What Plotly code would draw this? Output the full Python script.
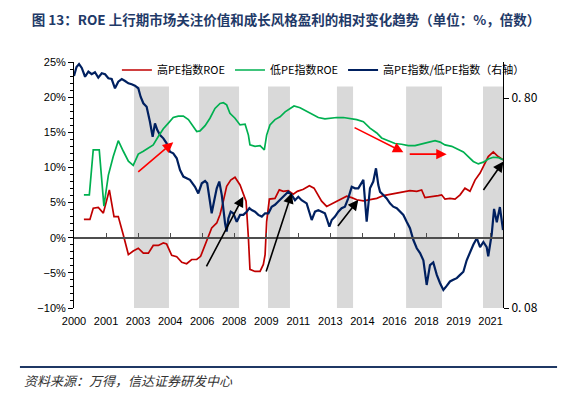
import math
import plotly.graph_objects as go

# ---------------- data ----------------
tick_labels = ['2000', '2001', '2003', '2004', '2006', '2008', '2009',
               '2011', '2013', '2014', '2016', '2018', '2019', '2021']
tick_pos = [2000.0, 2001.65, 2003.3, 2004.95, 2006.6, 2008.25, 2009.9,
            2011.55, 2013.2, 2014.85, 2016.5, 2018.15, 2019.8, 2021.45]

red_x = [2000.51, 2000.82, 2000.99, 2001.25, 2001.51, 2001.82, 2002.06, 2002.28, 2002.54, 2002.80,
         2003.05, 2003.31, 2003.57, 2003.83, 2004.08, 2004.34, 2004.60, 2004.77, 2005.03, 2005.29,
         2005.55, 2005.80, 2006.06, 2006.32, 2006.52, 2006.66, 2006.83, 2007.09, 2007.35, 2007.52,
         2007.69, 2007.86, 2008.07, 2008.29, 2008.55, 2008.72, 2008.86, 2008.98, 2009.06, 2009.32,
         2009.58, 2009.75, 2009.84, 2009.92, 2010.06, 2010.35, 2010.57, 2010.78, 2011.03, 2011.29,
         2011.50, 2011.81, 2012.12, 2012.36, 2012.53, 2012.75, 2013.01, 2013.27, 2013.53, 2013.78,
         2014.04, 2014.30, 2014.56, 2014.90, 2015.24, 2015.59, 2015.93, 2016.27, 2016.62, 2016.96,
         2017.30, 2017.65, 2017.90, 2018.07, 2018.42, 2018.76, 2018.93, 2019.10, 2019.36, 2019.62,
         2019.88, 2020.13, 2020.39, 2020.65, 2020.91, 2021.08, 2021.33, 2021.59, 2021.84, 2022.09]
high_pe_roe = [2.6, 2.6, 4.2, 4.3, 3.5, 6.8, 3.0, 3.0, 0.4, -2.4,
               -1.9, -1.5, -2.2, -2.2, -1.1, -1.1, -0.75, -0.9, -2.5, -2.7,
               -3.5, -3.7, -3.1, -3.1, -2.65, -1.6, -0.3, 1.4, 2.1, 3.3,
               5.2, 7.3, 8.2, 8.6, 7.5, 6.3, 5.2, 0.0, -4.5, -4.8,
               -4.8, -3.8, -2.4, 2.3, 5.5, 5.6, 6.8, 6.6, 6.7, 6.2,
               6.6, 6.9, 7.4, 7.05, 6.2, 5.2, 4.45, 4.8, 5.2, 5.6,
               5.9, 5.7, 5.4, 5.25, 5.4, 5.6, 6.0, 6.2, 6.35, 6.6,
               6.7, 6.6, 6.8, 5.7, 5.8, 6.0, 6.1, 5.5, 5.6, 5.5,
               6.1, 7.05, 6.6, 8.2, 9.2, 10.1, 11.55, 12.2, 11.55, 11.1]

green_x = [2000.51, 2000.79, 2000.99, 2001.30, 2001.54, 2001.77, 2002.02, 2002.28, 2002.54, 2002.80,
           2003.05, 2003.31, 2003.57, 2003.83, 2004.08, 2004.34, 2004.60, 2004.86, 2005.11, 2005.37,
           2005.63, 2005.89, 2006.14, 2006.32, 2006.49, 2006.75, 2007.00, 2007.26, 2007.52, 2007.69,
           2007.86, 2008.03, 2008.29, 2008.55, 2008.81, 2008.98, 2009.06, 2009.32, 2009.58, 2009.80,
           2009.92, 2010.09, 2010.35, 2010.61, 2010.87, 2011.12, 2011.33, 2011.64, 2011.98, 2012.24,
           2012.58, 2012.92, 2013.18, 2013.53, 2013.87, 2014.21, 2014.56, 2014.90, 2015.24, 2015.59,
           2015.84, 2016.18, 2016.53, 2016.87, 2017.21, 2017.56, 2017.90, 2018.24, 2018.59, 2018.85,
           2019.10, 2019.45, 2019.79, 2020.05, 2020.30, 2020.56, 2020.82, 2021.08, 2021.33, 2021.59,
           2021.84, 2022.09]
low_pe_roe = [6.1, 6.1, 12.5, 12.5, 4.5, 8.9, 11.55, 13.8, 12.3, 10.9,
              10.3, 11.9, 12.3, 12.8, 13.2, 14.4, 15.5, 16.3, 17.1, 17.3,
              17.3, 16.8, 15.8, 15.1, 15.2, 15.95, 17.0, 18.4, 19.1, 19.2,
              18.9, 17.7, 17.0, 16.05, 16.15, 14.6, 13.2, 13.0, 13.1, 12.5,
              14.6, 16.05, 16.8, 17.2, 17.9, 18.3, 18.75, 18.5, 18.0, 17.5,
              17.1, 16.9, 17.0, 17.1, 17.1, 17.0, 16.8, 16.5, 15.6, 14.9,
              14.2, 13.8, 13.4, 13.3, 13.1, 13.1, 13.3, 13.6, 13.8, 13.6,
              13.2, 13.0, 12.6, 12.2, 11.55, 10.85, 10.5, 10.75, 11.2, 11.45,
              11.4, 11.1]

ratio_x = [2000.00, 2000.13, 2000.26, 2000.40, 2000.57, 2000.74, 2000.91, 2001.08, 2001.25, 2001.43,
           2001.60, 2001.77, 2001.94, 2002.11, 2002.28, 2002.46, 2002.63, 2002.80, 2002.97, 2003.14,
           2003.31, 2003.43, 2003.57, 2003.74, 2003.91, 2004.05, 2004.17, 2004.29, 2004.43, 2004.60,
           2004.77, 2004.94, 2005.11, 2005.29, 2005.46, 2005.63, 2005.80, 2005.97, 2006.23, 2006.40,
           2006.58, 2006.75, 2006.86, 2006.97, 2007.09, 2007.21, 2007.35, 2007.48, 2007.61, 2007.78,
           2007.86, 2007.95, 2008.07, 2008.20, 2008.38, 2008.55, 2008.72, 2008.89, 2009.03, 2009.15,
           2009.32, 2009.49, 2009.67, 2009.84, 2010.01, 2010.18, 2010.35, 2010.52, 2010.69, 2010.87,
           2011.03, 2011.21, 2011.38, 2011.55, 2011.72, 2011.98, 2012.12, 2012.24, 2012.41, 2012.58,
           2012.75, 2012.92, 2013.04, 2013.15, 2013.27, 2013.44, 2013.61, 2013.78, 2013.95, 2014.12,
           2014.30, 2014.47, 2014.64, 2014.73, 2014.90, 2015.07, 2015.24, 2015.41, 2015.55, 2015.67,
           2015.76, 2015.93, 2016.10, 2016.27, 2016.44, 2016.62, 2016.79, 2016.96, 2017.13, 2017.30,
           2017.47, 2017.65, 2017.82, 2017.99, 2018.16, 2018.33, 2018.50, 2018.68, 2018.85, 2019.02,
           2019.19, 2019.36, 2019.53, 2019.71, 2019.88, 2020.05, 2020.22, 2020.39, 2020.56, 2020.74,
           2020.91, 2021.08, 2021.25, 2021.33, 2021.51, 2021.63, 2021.77, 2021.93, 2022.09]
pe_ratio = [1.018, 1.124, 1.161, 1.112, 1.010, 1.068, 1.038, 1.061, 1.000, 1.049,
            1.038, 0.993, 0.985, 0.890, 0.957, 0.985, 0.964, 0.940, 0.930, 0.915,
            0.890, 0.811, 0.755, 0.727, 0.617, 0.523, 0.606, 0.563, 0.533, 0.514,
            0.487, 0.444, 0.436, 0.413, 0.363, 0.338, 0.332, 0.326, 0.302, 0.281,
            0.314, 0.322, 0.314, 0.271, 0.226, 0.257, 0.297, 0.320, 0.276, 0.202,
            0.185, 0.214, 0.230, 0.226, 0.206, 0.222, 0.222, 0.230, 0.239, 0.234,
            0.230, 0.222, 0.218, 0.226, 0.226, 0.243, 0.248, 0.257, 0.266, 0.276,
            0.286, 0.276, 0.261, 0.271, 0.261, 0.252, 0.226, 0.210, 0.230, 0.234,
            0.230, 0.226, 0.210, 0.195, 0.210, 0.218, 0.230, 0.239, 0.243, 0.266,
            0.302, 0.297, 0.297, 0.308, 0.326, 0.206, 0.297, 0.320, 0.370, 0.308,
            0.286, 0.276, 0.266, 0.252, 0.243, 0.239, 0.230, 0.222, 0.206, 0.192,
            0.169, 0.154, 0.146, 0.135, 0.103, 0.128, 0.132, 0.115, 0.105, 0.0975,
            0.102, 0.107, 0.109, 0.111, 0.115, 0.119, 0.135, 0.148, 0.160, 0.172,
            0.156, 0.165, 0.156, 0.141, 0.180, 0.237, 0.205, 0.242, 0.188]

# ROE up-cycle periods (grey bands)
shade_start = [2003.09, 2006.44, 2009.99, 2013.54, 2017.10, 2021.06]
shade_end = [2004.89, 2008.50, 2011.12, 2014.37, 2018.95, 2022.09]
shade_top = 21.5

# arrows: (tail x, tail y, head x, head y, colour)
arrows = [
    (2003.23, 9.19, 2005.11, 13.59, '#FF0000'),
    (2014.37, 15.77, 2016.96, 12.17, '#FF0000'),
    (2017.21, 11.89, 2019.19, 11.89, '#FF0000'),
    (2006.78, -4.30, 2008.72, 5.87, '#000000'),
    (2009.87, -5.01, 2011.21, 6.35, '#000000'),
    (2013.53, 1.46, 2014.64, 5.40, '#000000'),
    (2021.03, 6.58, 2022.11, 10.84, '#000000'),
]

x_range = [2000.0, 2022.09]
CJK = 'Noto Sans CJK SC'
LAT = 'Liberation Sans'

fig = go.Figure()
fig.add_trace(go.Scatter(x=red_x, y=high_pe_roe, mode='lines', name='高PE指数ROE',
                         line=dict(color='#C00000', width=1.7), xaxis='x', yaxis='y'))
fig.add_trace(go.Scatter(x=green_x, y=low_pe_roe, mode='lines', name='低PE指数ROE',
                         line=dict(color='#00B050', width=1.7), xaxis='x2', yaxis='y'))
fig.add_trace(go.Scatter(x=ratio_x, y=pe_ratio, mode='lines', name='高PE指数/低PE指数（右轴）',
                         line=dict(color='#002060', width=2.2), xaxis='x', yaxis='y2'))

shapes = []
for s, e in zip(shade_start, shade_end):
    shapes.append(dict(type='rect', xref='x', yref='y', x0=s, x1=e, y0=-10, y1=shade_top,
                       fillcolor='#D9D9D9', line=dict(width=0), layer='below'))
# footer rule
shapes.append(dict(type='line', xref='paper', yref='paper', x0=-0.126, x1=1.126,
                   y0=-0.2398, y1=-0.2398, line=dict(color='#1F3864', width=2)))

annotations = []
for tx, ty, hx, hy, c in arrows:
    annotations.append(dict(x=hx, y=hy, ax=tx, ay=ty, xref='x', yref='y', axref='x', ayref='y',
                            text='', showarrow=True, arrowhead=2, arrowsize=1.3, arrowwidth=1.6,
                            arrowcolor=c, standoff=0, startstandoff=0))
annotations.append(dict(text='<i>资料来源：万得，信达证券研发中心</i>', xref='paper', yref='paper',
                        x=-0.121, y=-0.2967, xanchor='left', yanchor='middle', showarrow=False,
                        font=dict(family=CJK, size=13, color='#333333')))

fig.update_layout(
    width=572, height=394,
    margin=dict(l=74, r=69, t=62, b=86),
    paper_bgcolor='white', plot_bgcolor='white',
    title=dict(text='<b>图 13：ROE 上行期市场关注价值和成长风格盈利的相对变化趋势（单位：%，倍数）</b>',
               x=0.5, xanchor='center', y=1 - 20 / 394, yanchor='middle', yref='container',
               font=dict(family=CJK, size=13.5, color='#1F3A68')),
    showlegend=True,
    legend=dict(orientation='h', x=0.1, y=0.9675, xanchor='left', yanchor='middle',
                bgcolor='rgba(0,0,0,0)', font=dict(family=CJK, size=11, color='#000000'),
                itemwidth=30, tracegroupgap=0),
    xaxis=dict(range=x_range, tickvals=tick_pos, ticktext=tick_labels, ticks='',
               showline=False, showgrid=False, zeroline=False,
               tickfont=dict(family=LAT, size=11, color='#000000'), ticklabelstandoff=5),
    xaxis2=dict(range=x_range, overlaying='x', anchor='free', position=0.2846, side='bottom',
                showline=True, linecolor='#4D4D4D', linewidth=2, ticks='inside', ticklen=4,
                tickcolor='#4D4D4D', tickwidth=1, tickvals=tick_pos, showticklabels=False,
                showgrid=False, zeroline=False),
    yaxis=dict(range=[-10, 25], dtick=5, tick0=0, ticksuffix='%', showline=True,
               linecolor='#000000', linewidth=1, ticks='outside', ticklen=5, tickcolor='#000000',
               minor=dict(dtick=1, ticks='outside', ticklen=3, tickcolor='#000000'),
               showgrid=False, zeroline=False,
               tickfont=dict(family=LAT, size=11, color='#000000')),
    yaxis2=dict(type='log', range=[math.log10(0.08), 0.0745], overlaying='y', side='right',
                anchor='x', showline=True, linecolor='#000000', linewidth=1, ticks='outside',
                ticklen=5, tickcolor='#000000', tickvals=[0.08, 0.8], ticktext=['0. 08', '0. 80'],
                showgrid=False, zeroline=False,
                tickfont=dict(family=CJK, size=12, color='#000000')),
    shapes=shapes,
    annotations=annotations,
)

fig.write_html('out.html', config={'displayModeBar': False},
               post_script="document.body.style.margin='0px';")
